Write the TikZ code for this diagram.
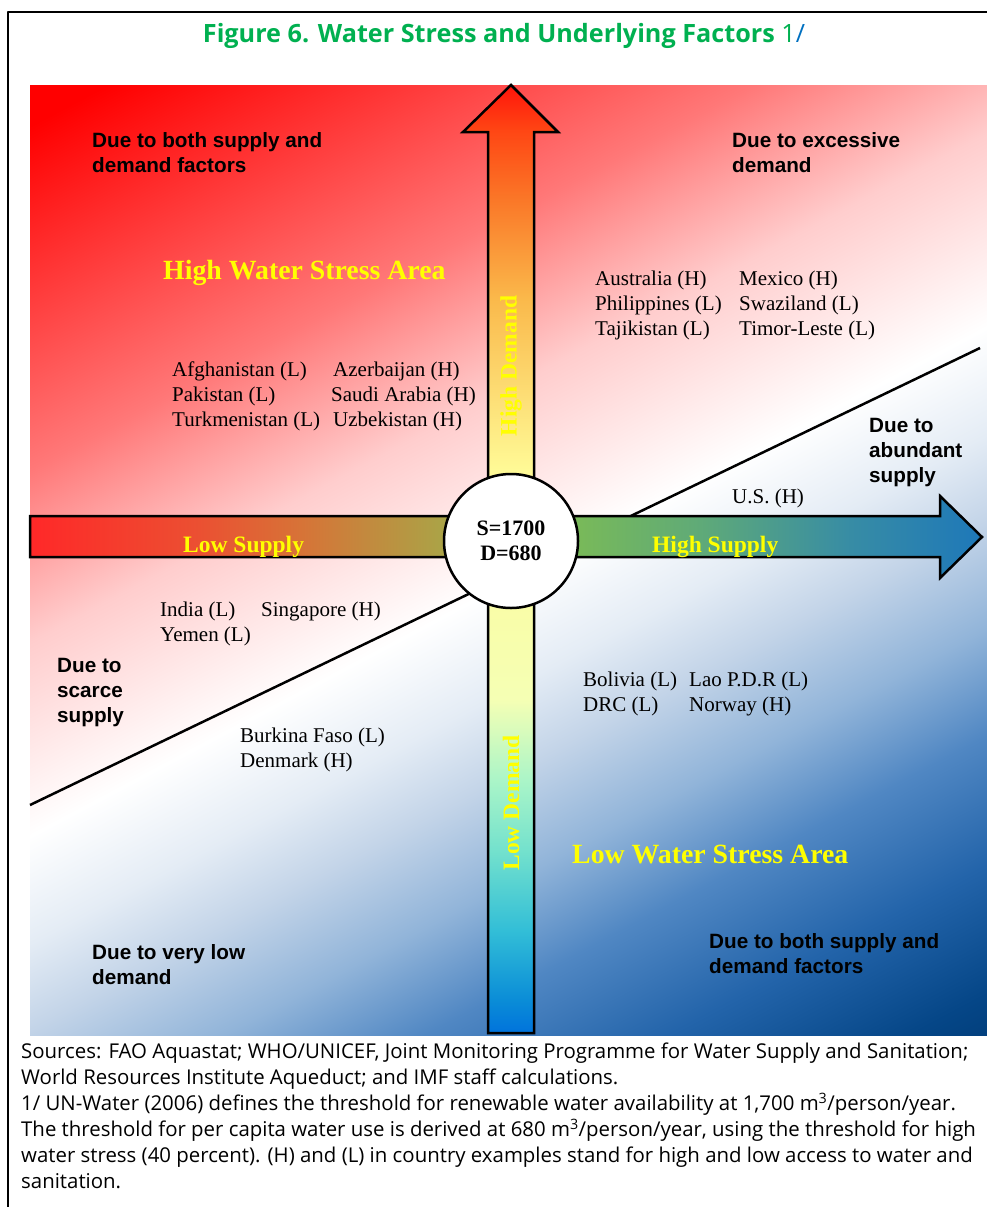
\documentclass[tikz,border=0pt]{standalone}
\usepackage{fontspec}
\setmainfont{Liberation Serif}
\newfontfamily\arialf{Liberation Sans}
\newfontfamily\segoef{Open Sans}
\usetikzlibrary{positioning}

\definecolor{figgreen}{RGB}{0,176,80}
\definecolor{figblue}{RGB}{0,112,192}
\definecolor{lblyellow}{RGB}{255,255,0}
% background colours
\definecolor{bgA}{RGB}{0,60,120}
\definecolor{bgB}{RGB}{5,70,135}
\definecolor{bgC}{RGB}{35,100,170}
\definecolor{bgG}{RGB}{80,135,195}
\definecolor{bgH}{RGB}{145,180,217}
\definecolor{bgI}{RGB}{195,212,232}
\definecolor{bgJ}{RGB}{228,236,245}
\definecolor{bgD}{RGB}{255,205,205}
\definecolor{bgE}{RGB}{255,120,120}
\definecolor{bgF}{RGB}{255,0,0}
% demand arrow colours
\definecolor{dmA}{RGB}{0,115,220}
\definecolor{dmB}{RGB}{10,140,215}
\definecolor{dmC}{RGB}{50,190,215}
\definecolor{dmD}{RGB}{115,225,205}
\definecolor{dmE}{RGB}{170,245,200}
\definecolor{dmF}{RGB}{245,255,180}
\definecolor{dmG}{RGB}{255,250,150}
\definecolor{dmH}{RGB}{250,185,75}
\definecolor{dmI}{RGB}{250,120,40}
\definecolor{dmJ}{RGB}{255,70,20}
\definecolor{dmK}{RGB}{255,20,10}
% supply arrow colours
\definecolor{spA}{RGB}{255,40,40}
\definecolor{spB}{RGB}{235,80,50}
\definecolor{spC}{RGB}{215,115,55}
\definecolor{spD}{RGB}{172,162,70}
\definecolor{spE}{RGB}{120,185,90}
\definecolor{spF}{RGB}{95,170,120}
\definecolor{spG}{RGB}{55,140,165}
\definecolor{spH}{RGB}{30,120,185}

\pgfdeclareverticalshading{stressbg}{100bp}{color(0bp)=(bgA); color(15bp)=(bgA);
  color(18bp)=(bgB); color(24bp)=(bgC); color(30bp)=(bgG); color(35bp)=(bgH);
  color(40bp)=(bgI); color(44bp)=(bgJ); color(49bp)=(white); color(58bp)=(bgD);
  color(66bp)=(bgE); color(82bp)=(bgF); color(100bp)=(bgF)}
\pgfdeclareverticalshading{demandsh}{100bp}{color(0bp)=(dmA); color(25bp)=(dmA);
  color(26.7bp)=(dmB); color(30.4bp)=(dmC); color(34.6bp)=(dmD); color(38.3bp)=(dmE);
  color(42.6bp)=(dmF); color(54.7bp)=(dmG); color(63.7bp)=(dmH); color(68.9bp)=(dmI);
  color(72.6bp)=(dmJ); color(75bp)=(dmK); color(100bp)=(dmK)}
\pgfdeclarehorizontalshading{supplysh}{100bp}{color(0bp)=(spA); color(25bp)=(spA);
  color(33.9bp)=(spB); color(39.2bp)=(spC); color(46.5bp)=(spD); color(53.9bp)=(spE);
  color(60.2bp)=(spF); color(68.1bp)=(spG); color(75bp)=(spH); color(100bp)=(spH)}

\tikzset{
  cty/.style={font=\fontsize{21}{25}\selectfont,anchor=base west,inner sep=0pt},
  why/.style={font=\arialf\bfseries\fontsize{20.7}{25}\selectfont,anchor=north west,
    align=left,inner sep=0pt},
  area/.style={text=lblyellow,font=\bfseries\fontsize{27.8}{30}\selectfont,
    anchor=base west,inner sep=0pt},
  axl/.style={text=lblyellow,font=\bfseries\fontsize{23.5}{26}\selectfont,inner sep=0pt},
  arr/.style={draw=black,line width=2.5pt,line join=miter},
}

\begin{document}
\begin{tikzpicture}[x=1pt,y=-1pt,line join=round]
  \useasboundingbox (0,0) rectangle (987,1207);
  % frame
  \draw[line width=2.5pt] (8,1215) -- (8,12) -- (995,12);
  % title
  \node[font=\segoef\bfseries\fontsize{25.2}{28}\selectfont,text=figgreen,anchor=base]
    (title) at (504,43) {Figure 6. Water Stress and Underlying Factors {\mdseries 1\textcolor{figblue}{/}}};
  % background
  \shade[shading=stressbg,shading angle=28] (30,85) rectangle (987,1035);
  % dividing line
  \coordinate (lineL) at (30,805);
  \coordinate (lineR) at (980,348);
  \draw[line width=2.5pt] (lineL) -- (lineR);
  % supply arrow
  \shadedraw[shading=supplysh,arr] (30,516) -- (940,516) -- (940,496) -- (982,537)
    -- (940,578) -- (940,557) -- (30,557) -- cycle;
  % demand arrow
  \shadedraw[shading=demandsh,arr] (488,1033) -- (488,132) -- (463,132) -- (511,85)
    -- (558,132) -- (534,132) -- (534,1033) -- cycle;
  % threshold circle
  \node[circle,draw,fill=white,line width=2.5pt,minimum size=134pt,inner sep=0pt,
    align=center,font=\bfseries\fontsize{22}{25}\selectfont] (ctr) at (511,541) {S=1700\\D=680};
  % axis labels
  \node[axl,rotate=90] (hidem) at (511,366) {High Demand};
  \node[axl,rotate=90] (lodem) at (511,803) {Low Demand};
  \node[axl,anchor=base west] (losup) at (183,552) {Low Supply};
  \node[axl,anchor=base west] (hisup) at (652,552) {High Supply};
  % areas
  \node[area] (hiarea) at (163,279) {High Water Stress Area};
  \node[area] (loarea) at (572,863) {Low Water Stress Area};
  % reasons
  \node[why] (whyTL) at (92,132) {Due to both supply and\\demand factors};
  \node[why] (whyTR) at (732,132) {Due to excessive\\demand};
  \node[why] (whyAb) at (869,418) {Due to\\abundant\\supply};
  \node[why] (whySc) at (57,658) {Due to\\scarce\\supply};
  \node[why] (whyVl) at (92,944) {Due to very low\\demand};
  \node[why] (whyBR) at (709,933) {Due to both supply and\\demand factors};
  % countries, excessive demand
  \node[cty] (aus) at (595,285) {Australia (H)};
  \node[cty] (mex) at (739,285) {Mexico (H)};
  \node[cty] (phl) at (595,310) {Philippines (L)};
  \node[cty] (swz) at (739,310) {Swaziland (L)};
  \node[cty] (tjk) at (595,335) {Tajikistan (L)};
  \node[cty] (tls) at (739,335) {Timor-Leste (L)};
  % countries, both factors
  \node[cty] (afg) at (172,376) {Afghanistan (L)};
  \node[cty] (aze) at (333,376) {Azerbaijan (H)};
  \node[cty] (pak) at (172,401) {Pakistan (L)};
  \node[cty] (sau) at (331,401) {Saudi Arabia (H)};
  \node[cty] (tkm) at (172,426) {Turkmenistan (L)};
  \node[cty] (uzb) at (333,426) {Uzbekistan (H)};
  % countries, abundant supply
  \node[cty] (usa) at (732,503) {U.S. (H)};
  % countries, scarce supply
  \node[cty] (ind) at (160,616) {India (L)};
  \node[cty] (sgp) at (261,616) {Singapore (H)};
  \node[cty] (yem) at (160,641) {Yemen (L)};
  % countries, low stress
  \node[cty] (bol) at (583,686) {Bolivia (L)};
  \node[cty] (lao) at (689,686) {Lao P.D.R (L)};
  \node[cty] (drc) at (583,711) {DRC (L)};
  \node[cty] (nor) at (689,711) {Norway (H)};
  % countries, very low demand
  \node[cty] (bfa) at (240,742) {Burkina Faso (L)};
  \node[cty] (dnk) at (240,767) {Denmark (H)};
  % notes
  \node[font=\segoef\fontsize{20.4}{26}\selectfont,anchor=north west,align=left,inner sep=0pt]
    (notes) at (21,1043) {Sources: FAO Aquastat; WHO/UNICEF, Joint Monitoring Programme for Water Supply and Sanitation;\\
    World Resources Institute Aqueduct; and IMF staff calculations.\\
    1/ UN-Water (2006) defines the threshold for renewable water availability at 1,700 m\textsuperscript{3}/person/year.\\
    The threshold for per capita water use is derived at 680 m\textsuperscript{3}/person/year, using the threshold for high\\
    water stress (40 percent). (H) and (L) in country examples stand for high and low access to water and\\
    sanitation.};
\end{tikzpicture}
\end{document}
